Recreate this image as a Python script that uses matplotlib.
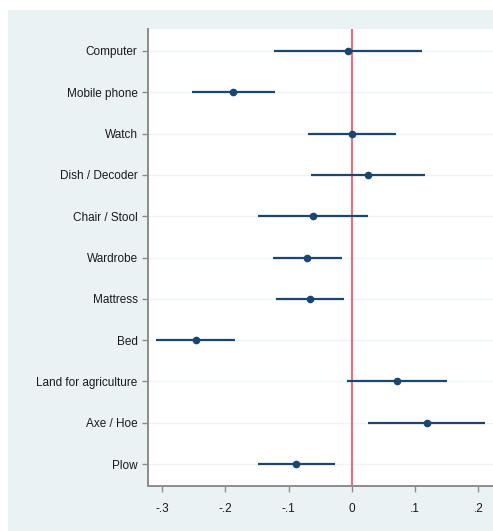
import matplotlib
matplotlib.use("Agg")
import matplotlib.pyplot as plt
from matplotlib.patches import Rectangle

# - - - - data - - - -
items = ["Computer", "Mobile phone", "Watch", "Dish / Decoder", "Chair / Stool",
         "Wardrobe", "Mattress", "Bed", "Land for agriculture", "Axe / Hoe", "Plow"]
coef = [-0.006, -0.187, 0.000, 0.025, -0.061, -0.071, -0.066, -0.246, 0.071, 0.119, -0.088]
ci_low = [-0.123, -0.253, -0.070, -0.064, -0.148, -0.124, -0.120, -0.310, -0.008, 0.026, -0.148]
ci_high = [0.111, -0.121, 0.069, 0.116, 0.025, -0.016, -0.013, -0.184, 0.151, 0.211, -0.027]
xticks = [-0.3, -0.2, -0.1, 0, 0.1, 0.2]
xticklabels = ["-.3", "-.2", "-.1", "0", ".1", ".2"]

navy = "#1a476f"
bg = "#eaf2f3"
W, H = 493, 531


def main():
    fig = plt.figure(figsize=(W / 100, H / 100), dpi=100)
    fig.patch.set_facecolor("white")
    # outer stata-like background panel
    fig.patches.append(Rectangle((8 / W, 0), 1, 1 - 10 / H, transform=fig.transFigure,
                                 facecolor=bg, edgecolor="none", zorder=-10))

    ax = fig.add_axes([148 / W, 1 - 486 / H, 1 - 148 / W, (486 - 29) / H])
    ax.set_facecolor("white")

    pos = list(range(len(items)))
    for p in pos:
        ax.axhline(p, color="#eef4f5", lw=1.0, zorder=1)
    ax.axvline(0, color="#e8707a", lw=1.5, zorder=2)
    ax.hlines(pos, ci_low, ci_high, color=navy, lw=1.6, zorder=3)
    ax.plot(coef, pos, "o", color=navy, ms=4.5, zorder=4)

    ax.set_xlim(-0.322, 0.223)
    ax.set_ylim(len(items) - 0.47, -0.53)
    ax.set_yticks(pos)
    ax.set_yticklabels(items)
    ax.set_xticks(xticks)
    ax.set_xticklabels(xticklabels)

    for s in ["top", "right"]:
        ax.spines[s].set_visible(False)
    for s in ["left", "bottom"]:
        ax.spines[s].set_color("#8c8c8c")
        ax.spines[s].set_linewidth(1.4)
    ax.tick_params(axis="both", colors="#8c8c8c", length=4, width=1.0,
                   labelcolor="#1a1a1a", labelsize=8.5)
    ax.tick_params(axis="x", pad=8)
    for lab in ax.get_xticklabels() + ax.get_yticklabels():
        lab.set_family(["Liberation Sans", "DejaVu Sans"])

    fig.savefig("out.png", dpi=100, facecolor=fig.get_facecolor())


if __name__ == '__main__':
    main()
